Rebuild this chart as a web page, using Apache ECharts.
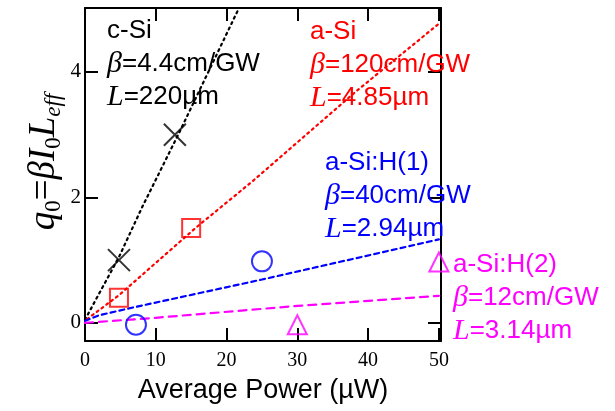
<!DOCTYPE html>
<html>
<head>
<meta charset="utf-8">
<script src="https://cdn.jsdelivr.net/npm/echarts@6/dist/echarts.min.js"></script>
<style>
  html, body { margin: 0; padding: 0; background: #fff; }
  #chart { width: 615px; height: 411px; }
</style>
</head>
<body>
<div id="chart"></div>
<script>
// 数据
const xTicks = [0, 10, 20, 30, 40, 50];
const yTicks = [0, 2, 4];

// 测量点
const cSiPoints = [[4.8, 1.0], [12.7, 3.0]];
const aSiPoints = [[4.8, 0.4], [15.0, 1.51]];
const aSiH1Points = [[7.2, -0.03], [25.0, 0.98]];
const aSiH2Points = [[30.0, -0.03], [50.0, 0.97]];

// 拟合曲线
const cSiFit = [[0, 0.05], [4.8, 1.05], [8.1, 1.85], [13.3, 3.03], [21.8, 5.03]];
const aSiFit = [[0.3, 0.06], [4.8, 0.44], [15.7, 1.52], [23.7, 2.26], [38.4, 3.7], [50, 4.77]];
const aSiH1Fit = [[0, 0.03], [2, 0.12], [6.2, 0.23], [25, 0.69], [50, 1.33]];
const aSiH2Fit = [[0, 0.0], [10, 0.08], [30, 0.27], [50, 0.43]];

const SANS = "Liberation Sans";
const SERIF = "Liberation Serif";

const chart = echarts.init(document.getElementById("chart"));

// 注释文本块
const labelBlock = (name, beta, len, color) => ({
  text: `{t|${name}}\n{g|β}{t|=${beta}}\n{g|L}{t|=${len}}`,
  rich: {
    t: { fontFamily: SANS, fontSize: 26, fill: color, lineHeight: 33 },
    g: { fontFamily: SERIF, fontStyle: "italic", fontSize: 30, fill: color, lineHeight: 33 },
  },
});

const fitLine = (data, color, dash) => ({
  type: "line",
  data: data,
  showSymbol: false,
  smooth: false,
  lineStyle: { color: color, width: 2.2, type: dash, cap: "round" },
  z: 2,
  silent: true,
});

const points = (data, symbol, size, color) => ({
  type: "scatter",
  data: data,
  symbol: symbol,
  symbolSize: size,
  itemStyle: { color: "rgba(0,0,0,0)", borderColor: color, borderWidth: 2 },
  z: 3,
});

const axisCommon = {
  min: 0,
  max: 50.3,
  interval: 10,
  axisLine: { show: true, onZero: false, lineStyle: { color: "#000", width: 2 } },
  axisTick: { show: true, inside: true, length: 13, lineStyle: { color: "#000", width: 2 } },
  splitLine: { show: false },
};

const yCommon = {
  min: -0.29,
  max: 5.02,
  axisLine: { show: true, onZero: false, lineStyle: { color: "#000", width: 2 } },
  axisTick: { show: true, inside: true, length: 13, customValues: yTicks, lineStyle: { color: "#000", width: 2 } },
  splitLine: { show: false },
};

const option = {
  animation: false,
  grid: { left: 85, right: 174, top: 8, bottom: 70 },
  xAxis: [
    {
      ...axisCommon,
      type: "value",
      position: "bottom",
      axisLabel: { color: "#000", fontFamily: SERIF, fontSize: 20, margin: 10, customValues: xTicks },
      name: "Average Power (µW)",
      nameLocation: "middle",
      nameGap: 36,
      nameTextStyle: { fontFamily: SANS, fontSize: 27, color: "#000" },
    },
    {
      ...axisCommon,
      type: "value",
      position: "top",
      axisLabel: { show: false },
    },
  ],
  yAxis: [
    {
      ...yCommon,
      type: "value",
      position: "left",
      axisLabel: { color: "#000", fontFamily: SERIF, fontSize: 21, margin: 4, customValues: yTicks },
    },
    {
      ...yCommon,
      type: "value",
      position: "right",
      axisLabel: { show: false },
    },
  ],
  graphic: [
    {
      type: "text",
      x: 44,
      y: 162,
      rotation: Math.PI / 2,
      style: {
        text: "{i|q}{s|0}{r|=}{i|β}{i|I}{s|0}{i|L}{si|eff}",
        align: "center",
        verticalAlign: "middle",
        rich: {
          i: { fontFamily: SERIF, fontStyle: "italic", fontSize: 37, fill: "#000", lineHeight: 37 },
          r: { fontFamily: SERIF, fontSize: 37, fill: "#000", lineHeight: 37 },
          s: { fontFamily: SERIF, fontSize: 23, fill: "#000", lineHeight: 23, padding: [20, 0, 0, 0] },
          si: { fontFamily: SERIF, fontStyle: "italic", fontSize: 23, fill: "#000", lineHeight: 23, padding: [20, 0, 0, 0] },
        },
      },
    },
    { type: "text", left: 107, top: 18, z: 10, style: labelBlock("c-Si", "4.4cm/GW", "220µm", "#000") },
    { type: "text", left: 310, top: 19, z: 10, style: labelBlock("a-Si", "120cm/GW", "4.85µm", "#ff0000") },
    { type: "text", left: 325, top: 150, z: 10, style: labelBlock("a-Si:H(1)", "40cm/GW", "2.94µm", "#0000ff") },
    { type: "text", left: 453, top: 252, z: 10, style: labelBlock("a-Si:H(2)", "12cm/GW", "3.14µm", "#ff00ff") },
  ],
  series: [
    fitLine(cSiFit, "#000", [2, 4]),
    fitLine(aSiFit, "#ff0000", [2, 4]),
    fitLine(aSiH1Fit, "#0000ff", [5, 4]),
    fitLine(aSiH2Fit, "#ff00ff", [8, 6]),
    points(cSiPoints, "path://M0,0L10,10M10,0L0,10", 22, "#000"),
    points(aSiPoints, "rect", 18, "#ff0000"),
    points(aSiH1Points, "circle", 20, "#0000ff"),
    points(aSiH2Points, "triangle", 19, "#ff00ff"),
  ],
};

chart.setOption(option);
window.addEventListener("resize", () => chart.resize());
</script>
</body>
</html>
